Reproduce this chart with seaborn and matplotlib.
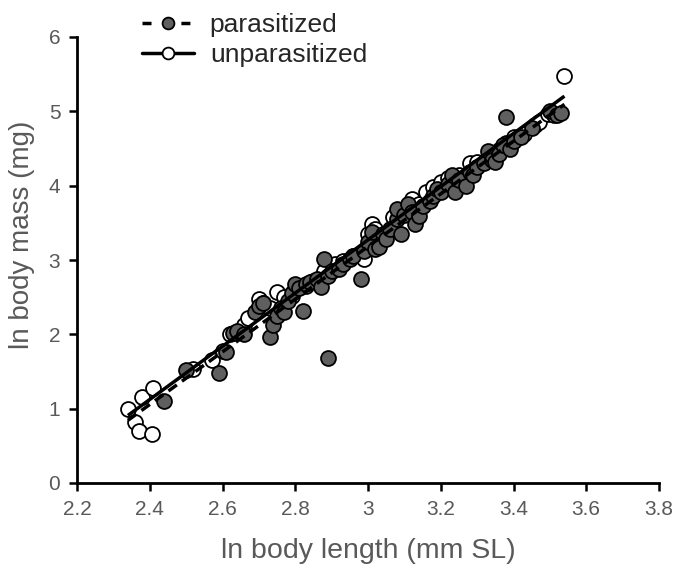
import numpy as np
import pandas as pd
import matplotlib
matplotlib.use("Agg")
import matplotlib.pyplot as plt
from matplotlib.lines import Line2D
import seaborn as sns

# ---- data ----
par_x = [2.44, 2.50, 2.59, 2.61, 2.63, 2.64, 2.66, 2.69, 2.70, 2.71, 2.73, 2.74, 2.75,
         2.76, 2.77, 2.78, 2.79, 2.80, 2.81, 2.82, 2.83, 2.84, 2.86, 2.87, 2.88, 2.89,
         2.89, 2.90, 2.92, 2.93, 2.95, 2.96, 2.98, 2.99, 3.00, 3.01, 3.02, 3.03, 3.04,
         3.05, 3.06, 3.08, 3.08, 3.09, 3.10, 3.11, 3.12, 3.13, 3.14, 3.15, 3.17, 3.18,
         3.19, 3.20, 3.22, 3.23, 3.24, 3.25, 3.27, 3.28, 3.29, 3.30, 3.32, 3.33, 3.34,
         3.35, 3.36, 3.37, 3.38, 3.39, 3.40, 3.42, 3.45, 3.50, 3.52, 3.53]
par_y = [1.10, 1.52, 1.48, 1.76, 2.02, 2.05, 2.00, 2.30, 2.38, 2.42, 1.96, 2.12, 2.25,
         2.35, 2.30, 2.45, 2.55, 2.68, 2.62, 2.31, 2.68, 2.70, 2.75, 2.64, 3.02, 1.68,
         2.78, 2.85, 2.88, 2.95, 3.01, 3.05, 2.74, 3.12, 3.24, 3.38, 3.15, 3.18, 3.35,
         3.28, 3.42, 3.55, 3.69, 3.35, 3.60, 3.76, 3.65, 3.49, 3.59, 3.72, 3.80, 3.86,
         3.96, 3.92, 4.02, 4.14, 3.92, 4.08, 3.99, 4.18, 4.14, 4.25, 4.30, 4.47, 4.35,
         4.32, 4.43, 4.55, 4.92, 4.50, 4.60, 4.66, 4.78, 5.00, 4.95, 4.98]

unp_x = [2.34, 2.36, 2.37, 2.405, 2.38, 2.41, 2.52, 2.57, 2.60, 2.62, 2.66, 2.67, 2.70,
         2.71, 2.73, 2.75, 2.77, 2.79, 2.83, 2.85, 2.88, 2.91, 2.93, 2.96, 2.99, 3.00,
         3.01, 3.02, 3.04, 3.07, 3.09, 3.12, 3.14, 3.16, 3.18, 3.20, 3.22, 3.25, 3.28,
         3.30, 3.33, 3.36, 3.38, 3.40, 3.43, 3.46, 3.47, 3.495, 3.51, 3.54]
unp_y = [1.00, 0.82, 0.70, 0.66, 1.16, 1.28, 1.54, 1.65, 1.78, 2.00, 2.12, 2.22, 2.48,
         2.42, 2.36, 2.57, 2.50, 2.52, 2.65, 2.72, 2.85, 2.95, 2.98, 3.05, 3.01, 3.35,
         3.49, 3.42, 3.30, 3.58, 3.62, 3.82, 3.75, 3.92, 3.98, 4.05, 4.10, 4.15, 4.30,
         4.32, 4.38, 4.48, 4.57, 4.65, 4.70, 4.82, 4.85, 4.96, 4.95, 5.47]

group_labels = ["parasitized", "unparasitized"]
x_ticks = [2.2, 2.4, 2.6, 2.8, 3.0, 3.2, 3.4, 3.6, 3.8]
x_tick_labels = ["2.2", "2.4", "2.6", "2.8", "3", "3.2", "3.4", "3.6", "3.8"]
y_ticks = [0, 1, 2, 3, 4, 5, 6]

df = pd.concat([
    pd.DataFrame({"length": par_x, "mass": par_y, "group": group_labels[0]}),
    pd.DataFrame({"length": unp_x, "mass": unp_y, "group": group_labels[1]}),
], ignore_index=True)

sns.set_style("white")
plt.rcParams["font.family"] = ["Liberation Sans", "DejaVu Sans"]

fig = plt.figure(figsize=(6.74, 5.66), dpi=100)
ax = fig.add_axes([77 / 674, 83 / 566, 582 / 674, 446 / 566])

gray = "#5f5f5f"
msize = 115
ew = 1.3

# unparasitized first (under), then parasitized
sns.scatterplot(data=df[df.group == group_labels[1]], x="length", y="mass", ax=ax,
                color="white", edgecolor="black", linewidth=ew, s=msize, zorder=2,
                legend=False)
sns.scatterplot(data=df[df.group == group_labels[0]], x="length", y="mass", ax=ax,
                color=gray, edgecolor="black", linewidth=ew, s=msize, zorder=2.5,
                legend=False)

# regression lines over the common data range
xr = np.array([df["length"].min(), df["length"].max()])
for g, ls in zip(group_labels, [(0, (3, 1.8)), "-"]):
    sub = df[df.group == g]
    b, a = np.polyfit(sub["length"], sub["mass"], 1)
    ax.plot(xr, a + b * xr, color="black", lw=2.5, linestyle=ls, zorder=3,
            solid_capstyle="butt", dash_capstyle="butt")

ax.set_xlim(2.2, 3.8)
ax.set_ylim(0, 6)
ax.set_xticks(x_ticks)
ax.set_xticklabels(x_tick_labels)
ax.set_yticks(y_ticks)
ax.tick_params(axis="both", direction="out", length=6, width=1.8, color="black",
               labelsize=15, labelcolor="#595959", pad=6, bottom=True, left=True)
for side in ["top", "right"]:
    ax.spines[side].set_visible(False)
for side in ["left", "bottom"]:
    ax.spines[side].set_linewidth(2)
    ax.spines[side].set_color("black")

ax.set_xlabel("ln body length (mm SL)", fontsize=20.5, color="#595959", labelpad=14)
ax.set_ylabel("ln body mass (mg)", fontsize=20, color="#595959")
ax.yaxis.set_label_coords(-0.072, 0.556)

handles = [
    Line2D([0], [0], color="black", lw=2.5, linestyle=(0, (2.6, 8.6)), marker="o",
           markersize=8.5, markerfacecolor=gray, markeredgecolor="black",
           markeredgewidth=ew),
    Line2D([0], [0], color="black", lw=2.5, linestyle="-", marker="o",
           markersize=8.5, markerfacecolor="white", markeredgecolor="black",
           markeredgewidth=ew),
]
fig.legend(handles, group_labels, loc="upper left",
           bbox_to_anchor=(124 / 674, 1 + 5 / 566), frameon=False,
           fontsize=19, handlelength=1.95, handletextpad=0.6, labelspacing=0.2,
           borderpad=0.2)

fig.savefig("out.png", dpi=100)
